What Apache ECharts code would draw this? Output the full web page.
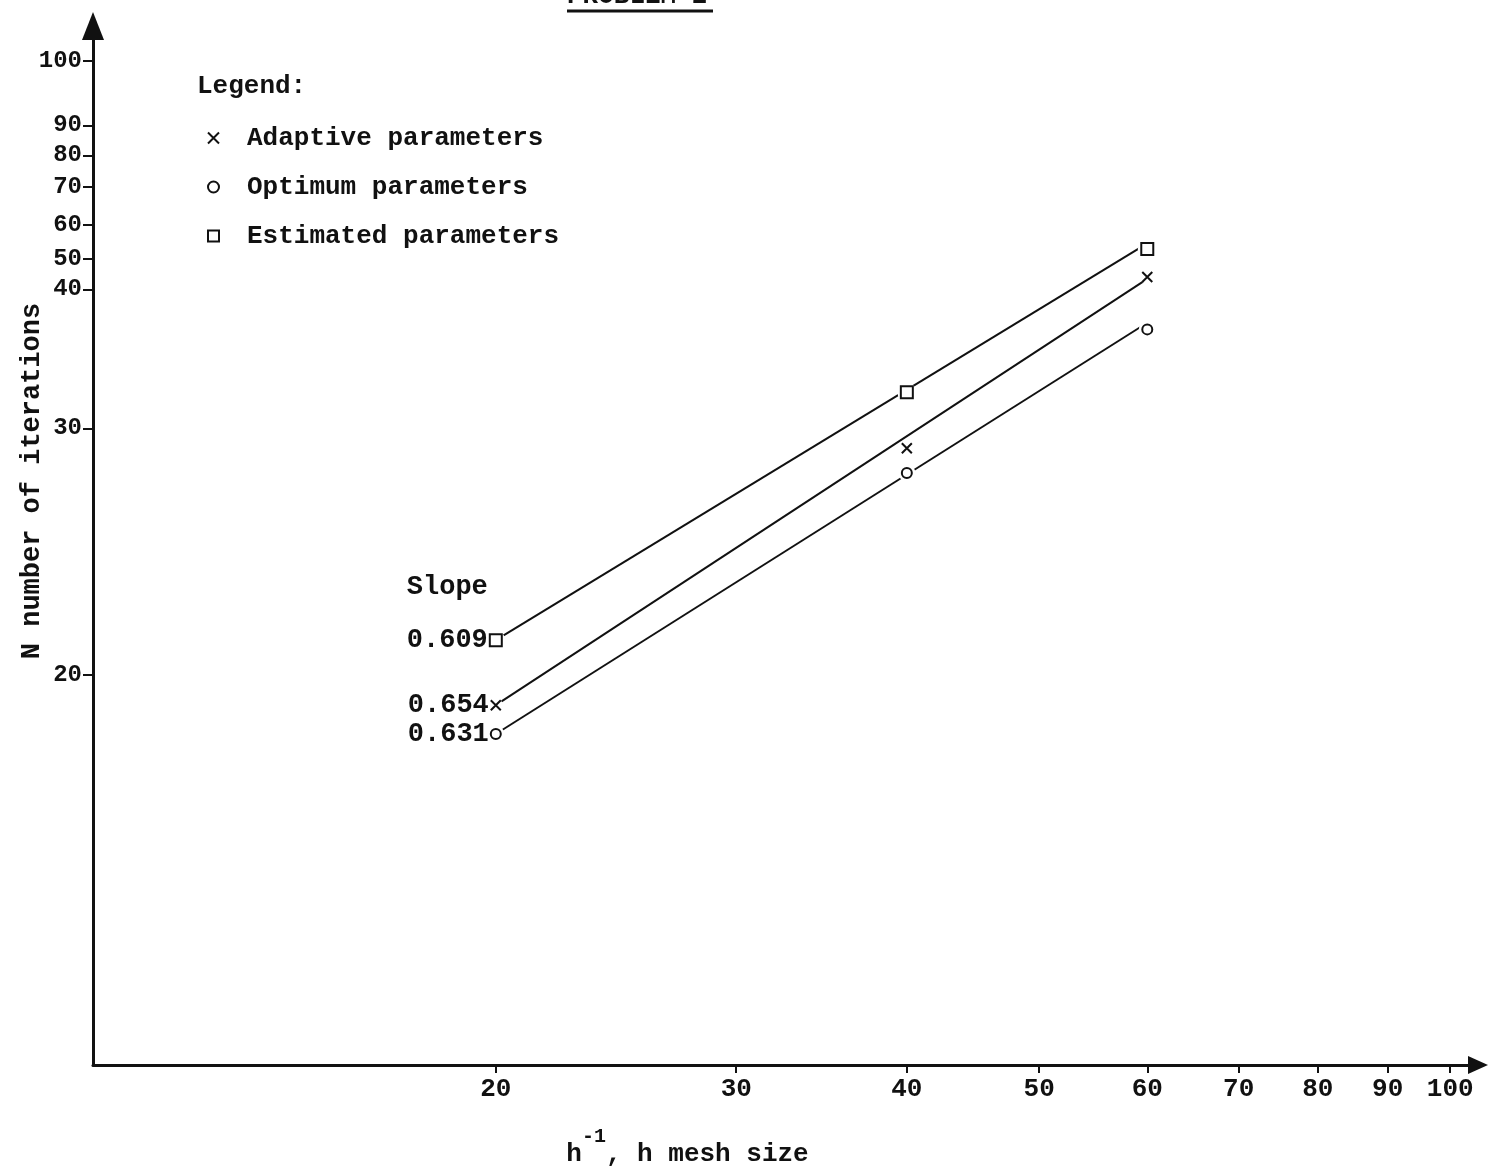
<!DOCTYPE html>
<html>
<head>
<meta charset="utf-8">
<title>PROBLEM 2</title>
<script src="https://cdn.jsdelivr.net/npm/echarts@6/dist/echarts.min.js"></script>
<style>
  html, body { margin: 0; padding: 0; background: #ffffff; }
  #chart { width: 1489px; height: 1172px; }
</style>
</head>
<body>
<div id="chart"></div>
<script>
// Iteration counts against inverse mesh size, plotted on log-log axes.
const meshSizes = [20, 40, 60];
const adaptiveIters = [19.0, 29.3, 39.1];
const optimumIters = [18.1, 28.1, 35.8];
const estimatedIters = [21.2, 32.2, 41.0];

// Fitted slopes of log N against log h^-1; each fit starts at its h^-1 = 20 point.
const adaptiveSlope = 0.654;
const optimumSlope = 0.631;
const estimatedSlope = 0.609;
const fitRange = [20, 60];

const xTickLabels = [20, 30, 40, 50, 60, 70, 80, 90, 100];
const yTickLabels = [20, 30, 40, 50, 60, 70, 80, 90, 100];
// Where each lettered N tick sits along the hand-drawn vertical scale.
const yTickAt = [20, 30.3, 38.3, 40.3, 42.7, 45.5, 48.0, 50.5, 56.3];

const xRange = [10.14, 104.8];
const yRange = [10.36, 59.7];

const lg = Math.log10;
const mono = '"Liberation Mono", "DejaVu Sans Mono", monospace';
const ink = '#111111';
const weight = 'bold';
const crossPath = 'path://M0,0L10,10M10,0L0,10';

function points(iters) {
  return meshSizes.map((h, i) => [lg(h), lg(iters[i])]);
}

function fitLine(iters, slope) {
  const h0 = fitRange[0], h1 = fitRange[1];
  const n0 = iters[0];
  return [[lg(h0), lg(n0)], [lg(h1), lg(n0 * Math.pow(h1 / h0, slope))]];
}

function slopeLabel(text, extra) {
  return Object.assign({
    show: true,
    position: 'left',
    distance: 1,
    formatter: text,
    fontFamily: mono,
    fontWeight: weight,
    fontSize: 27,
    color: ink,
    opacity: 1
  }, extra || {});
}

function withLabel(pts, label) {
  return pts.map((p, i) => (i === 0 ? { value: p, label: label } : p));
}

function fitSeries(iters, slope) {
  return {
    type: 'line',
    data: fitLine(iters, slope),
    symbol: 'none',
    lineStyle: { color: ink, width: 2 },
    z: 2,
    silent: true
  };
}

function haloSeries(iters, size) {
  return {
    type: 'scatter',
    data: points(iters),
    symbol: 'circle',
    symbolSize: size,
    itemStyle: { color: '#ffffff', opacity: 1 },
    z: 3,
    silent: true
  };
}

const markerStyle = { color: '#ffffff', borderColor: ink, borderWidth: 2, opacity: 1 };

const yTickPos = yTickAt.map(lg);
const xTickPos = xTickLabels.map(lg);

const chart = echarts.init(document.getElementById('chart'), null, { renderer: 'canvas' });

chart.setOption({
  animation: false,
  backgroundColor: '#ffffff',
  title: [
    {
      text: 'PROBLEM 2',
      left: 567,
      top: -17,
      padding: 0,
      textStyle: { fontFamily: mono, fontSize: 26, fontWeight: weight, color: ink, lineHeight: 26 }
    },
    {
      text: 'Legend:',
      left: 197,
      top: 73,
      padding: 0,
      textStyle: { fontFamily: mono, fontSize: 26, fontWeight: weight, color: ink, lineHeight: 26 }
    }
  ],
  graphic: [
    {
      type: 'line',
      shape: { x1: 567, y1: 11, x2: 713, y2: 11 },
      style: { stroke: ink, lineWidth: 3 }
    }
  ],
  legend: {
    orient: 'vertical',
    left: 207,
    top: 125,
    padding: 0,
    itemWidth: 11,
    itemHeight: 11,
    itemGap: 23,
    selectedMode: false,
    data: [
      { name: 'Adaptive parameters', icon: crossPath },
      { name: 'Optimum parameters', icon: 'circle' },
      { name: 'Estimated parameters', icon: 'rect' }
    ],
    itemStyle: { color: '#ffffff', borderColor: ink, borderWidth: 2, opacity: 1 },
    textStyle: { fontFamily: mono, fontWeight: weight, fontSize: 26, color: ink, lineHeight: 26, padding: [0, 0, 0, 23] }
  },
  grid: {
    left: 93,
    right: 11,
    top: 26,
    bottom: 107,
    containLabel: false,
    outerBoundsMode: 'none'
  },
  xAxis: {
    type: 'value',
    min: lg(xRange[0]),
    max: lg(xRange[1]),
    splitLine: { show: false },
    axisLine: {
      show: true,
      onZero: false,
      lineStyle: { color: ink, width: 3 },
      symbol: ['none', 'triangle'],
      symbolSize: [18, 20]
    },
    axisTick: {
      show: true,
      customValues: xTickPos,
      length: 8,
      lineStyle: { color: ink, width: 2 }
    },
    axisLabel: {
      customValues: xTickPos,
      formatter: (v) => String(Math.round(Math.pow(10, v))),
      margin: 11,
      fontFamily: mono,
      fontWeight: weight,
      fontSize: 26,
      color: ink
    },
    name: '{a|h}{s|-1}{a|, h mesh size}',
    nameLocation: 'middle',
    nameGap: 62,
    nameMoveOverlap: false,
    nameTextStyle: {
      padding: [0, 196, 0, 0],
      rich: {
        a: { fontFamily: mono, fontWeight: weight, fontSize: 26, color: ink, verticalAlign: 'bottom' },
        s: { fontFamily: mono, fontWeight: weight, fontSize: 20, color: ink, verticalAlign: 'bottom', padding: [0, 0, 20, 0] }
      }
    }
  },
  yAxis: {
    type: 'value',
    min: lg(yRange[0]),
    max: lg(yRange[1]),
    splitLine: { show: false },
    axisLine: {
      show: true,
      onZero: false,
      lineStyle: { color: ink, width: 3 },
      symbol: ['none', 'triangle'],
      symbolSize: [22, 28]
    },
    axisTick: {
      show: true,
      customValues: yTickPos,
      length: 10,
      lineStyle: { color: ink, width: 2 }
    },
    axisLabel: {
      customValues: yTickPos,
      formatter: (v) => {
        const i = yTickPos.findIndex((p) => Math.abs(p - v) < 1e-4);
        return i >= 0 ? String(yTickLabels[i]) : '';
      },
      margin: 11,
      fontFamily: mono,
      fontWeight: weight,
      fontSize: 24,
      color: ink
    },
    name: 'N number of iterations',
    nameLocation: 'middle',
    nameGap: 47,
    nameMoveOverlap: false,
    nameTextStyle: {
      fontFamily: mono,
      fontWeight: weight,
      fontSize: 27,
      color: ink,
      padding: [0, 0, 0, 129]
    }
  },
  series: [
    fitSeries(adaptiveIters, adaptiveSlope),
    fitSeries(optimumIters, optimumSlope),
    fitSeries(estimatedIters, estimatedSlope),
    haloSeries(adaptiveIters, 14),
    haloSeries(optimumIters, 17),
    haloSeries(estimatedIters, 19),
    {
      name: 'Adaptive parameters',
      type: 'scatter',
      symbol: crossPath,
      symbolSize: 10,
      itemStyle: markerStyle,
      z: 4,
      silent: true,
      data: withLabel(points(adaptiveIters), slopeLabel(adaptiveSlope.toFixed(3)))
    },
    {
      name: 'Optimum parameters',
      type: 'scatter',
      symbol: 'circle',
      symbolSize: 10,
      itemStyle: markerStyle,
      z: 4,
      silent: true,
      data: withLabel(points(optimumIters), slopeLabel(optimumSlope.toFixed(3)))
    },
    {
      name: 'Estimated parameters',
      type: 'scatter',
      symbol: 'rect',
      symbolSize: 12,
      itemStyle: markerStyle,
      z: 4,
      silent: true,
      data: withLabel(points(estimatedIters),
        slopeLabel('Slope\n\n' + estimatedSlope.toFixed(3), { lineHeight: 26.5, offset: [0, -26.5] }))
    }
  ]
});
</script>
</body>
</html>
